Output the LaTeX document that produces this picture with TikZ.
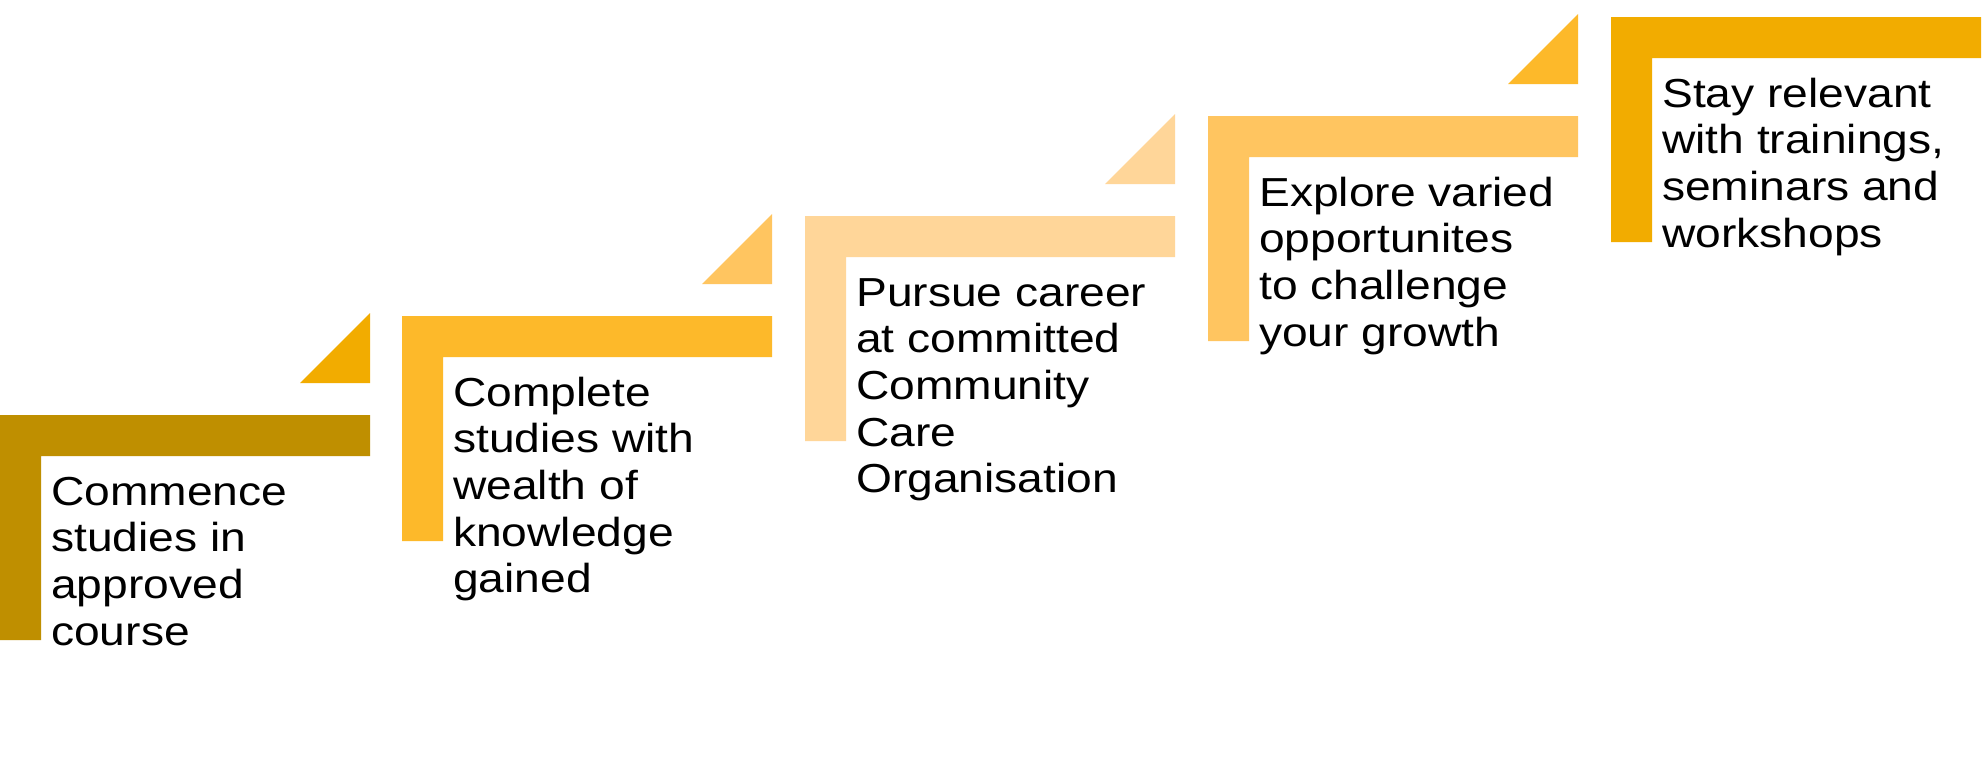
\documentclass[tikz,border=0pt]{standalone}
\usepackage{fontspec}
\setmainfont{Liberation Sans}[FakeStretch=1.14]
\definecolor{cA}{HTML}{BF8F00}
\definecolor{cB}{HTML}{FDB92A}
\definecolor{cC}{HTML}{FFD699}
\definecolor{cD}{HTML}{FFC560}
\definecolor{cE}{HTML}{F2AC00}
\tikzset{
  steptext/.style={anchor=base west, align=left, inner sep=0pt, text=black,
    font=\fontsize{40.5}{46.7}\selectfont},
}
\begin{document}
\begin{tikzpicture}[x=1pt,y=-1pt]
\useasboundingbox[fill=white] (0,0) rectangle (1984,761);
% L-shaped steps: left, top, colour
\foreach \L/\T/\c in {0/415/cA, 402/316/cB, 805/216/cC, 1208/116/cD, 1611/17/cE}{
  \fill[\c] (\L,\T) -- (\L+370,\T) -- (\L+370,\T+41) -- (\L+41,\T+41)
    -- (\L+41,\T+225) -- (\L,\T+225) -- cycle;
}
% triangles
\foreach \L/\T/\c in {0/415/cE, 402/316/cD, 805/216/cC, 1208/116/cB}{
  \fill[\c] (\L+300,\T-32) -- (\L+370,\T-32) -- (\L+370,\T-102) -- cycle;
}
% anchored at the baseline of the last line
\node[steptext] (t1) at (51,645.1) {Commence\\studies in\\approved\\course};
\node[steptext] (t2) at (453,592.8) {Complete\\studies with\\wealth of\\knowledge\\gained};
\node[steptext] (t3) at (856,492.8) {Pursue career\\at committed\\Community\\Care\\Organisation};
\node[steptext] (t4) at (1259,346.1) {Explore varied\\opportunites\\to challenge\\your growth};
\node[steptext] (t5) at (1662,247.1) {Stay relevant\\with trainings,\\seminars and\\workshops};
\end{tikzpicture}
\end{document}
